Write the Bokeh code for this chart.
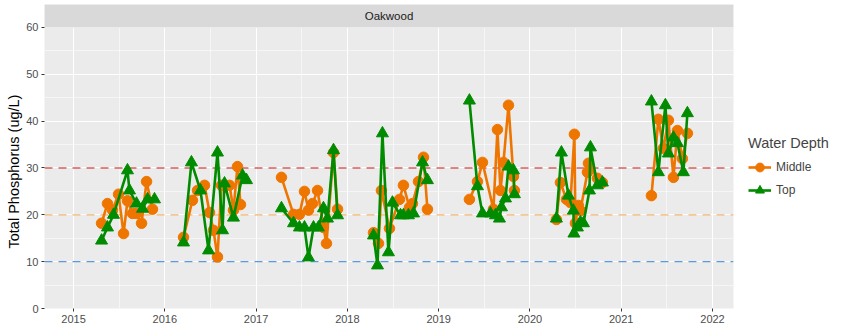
import numpy as np
from bokeh.plotting import figure
from bokeh.models import (Range1d, FixedTicker, BoxAnnotation, Label, Span,
                          Legend, LegendItem, Title)
from bokeh.embed import file_html
from bokeh.resources import INLINE

site = "Oakwood"
legend_title = "Water Depth"
y_label = "Total Phosphorus (ug/L)"
depth_labels = ["Middle", "Top"]

# sample dates as decimal years, total phosphorus (ug/L)
middle_time = [2015.307, 2015.372, 2015.427, 2015.493, 2015.548, 2015.591, 2015.646, 2015.690, 2015.745, 2015.800, 2015.865,
               2016.205, 2016.303, 2016.358, 2016.435, 2016.490, 2016.533, 2016.577, 2016.621, 2016.709, 2016.752, 2016.796, 2016.829,
               2017.278, 2017.410, 2017.475, 2017.530, 2017.574, 2017.618, 2017.673, 2017.738, 2017.771, 2017.848, 2017.892,
               2018.286, 2018.341, 2018.373, 2018.461, 2018.571, 2018.614, 2018.680, 2018.713, 2018.779, 2018.834, 2018.877,
               2019.337, 2019.425, 2019.480, 2019.600, 2019.644, 2019.677, 2019.710, 2019.765, 2019.819, 2019.830,
               2020.290, 2020.334, 2020.400, 2020.444, 2020.487, 2020.498, 2020.531, 2020.553, 2020.630, 2020.641, 2020.739, 2020.794,
               2021.331, 2021.407, 2021.462, 2021.517, 2021.572, 2021.616, 2021.670, 2021.725]
middle_tp = [18.2, 22.4, 21.0, 24.4, 16.0, 23.0, 20.3, 20.3, 18.2, 27.1, 21.2,
             15.2, 23.1, 25.2, 26.3, 20.5, 16.7, 11.0, 26.3, 26.3, 21.0, 30.3, 22.2,
             28.0, 20.1, 20.1, 25.0, 21.0, 22.4, 25.2, 17.3, 13.9, 33.3, 21.2,
             16.2, 13.9, 25.2, 17.1, 23.3, 26.3, 21.6, 22.4, 27.1, 32.3, 21.2,
             23.3, 27.1, 31.2, 21.2, 38.2, 25.2, 31.2, 43.4, 28.2, 25.2,
             19.0, 26.9, 23.3, 22.6, 37.2, 18.2, 22.0, 20.9, 29.1, 31.0, 27.8, 26.9,
             24.1, 40.4, 34.2, 40.2, 28.0, 38.0, 32.0, 37.4]

top_time = [2015.307, 2015.372, 2015.438, 2015.591, 2015.613, 2015.690, 2015.756, 2015.811, 2015.887,
            2016.205, 2016.292, 2016.391, 2016.479, 2016.577, 2016.632, 2016.654, 2016.752, 2016.851, 2016.895,
            2017.278, 2017.410, 2017.475, 2017.530, 2017.574, 2017.629, 2017.683, 2017.738, 2017.782, 2017.848, 2017.892,
            2018.286, 2018.330, 2018.384, 2018.450, 2018.494, 2018.582, 2018.614, 2018.669, 2018.724, 2018.823, 2018.877,
            2019.337, 2019.425, 2019.480, 2019.567, 2019.622, 2019.666, 2019.688, 2019.732, 2019.765, 2019.819, 2019.830,
            2020.290, 2020.345, 2020.422, 2020.476, 2020.482, 2020.520, 2020.553, 2020.586, 2020.652, 2020.663, 2020.739, 2020.794,
            2021.331, 2021.407, 2021.484, 2021.517, 2021.572, 2021.616, 2021.681, 2021.725]
top_tp = [14.5, 17.3, 20.0, 29.5, 25.2, 22.4, 21.3, 23.3, 23.3,
          14.1, 31.2, 25.2, 12.4, 33.3, 16.7, 26.7, 19.4, 28.4, 27.4,
          21.4, 18.2, 17.3, 17.3, 10.9, 17.3, 17.3, 21.4, 19.2, 33.8, 19.9,
          15.6, 9.2, 37.4, 12.0, 22.6, 19.9, 19.9, 19.9, 20.3, 31.2, 27.4,
          44.4, 26.1, 20.3, 20.3, 19.9, 19.2, 21.6, 23.5, 30.3, 29.5, 24.4,
          19.2, 33.3, 24.1, 20.9, 16.0, 17.3, 18.4, 18.2, 25.2, 34.4, 26.3, 26.9,
          44.2, 29.1, 43.4, 33.1, 36.5, 35.3, 29.1, 41.7]

year_ticks = [2015, 2016, 2017, 2018, 2019, 2020, 2021, 2022]
tp_ticks = [0, 10, 20, 30, 40, 50, 60]
thresholds = [10, 20, 30]
threshold_colors = ["#5A9BE0", "#F6B46E", "#D65F5C"]

ORANGE = "#EE7600"
GREEN = "#008B00"
FONT = "Liberation Sans"

x_lo, x_hi = 2014.682, 2022.230
y_top = 64.91

p = figure(frame_width=689, frame_height=304, output_backend="svg", toolbar_location=None,
           x_range=Range1d(x_lo, x_hi), y_range=Range1d(0, y_top),
           min_border_left=44, min_border_right=0, min_border_top=4, min_border_bottom=22,
           background_fill_color="#EBEBEB", border_fill_color="white", outline_line_color=None)

x_minor = [t + 0.5 for t in year_ticks[:-1]]
y_minor = [t + 5 for t in tp_ticks[:-1]]
p.xaxis.ticker = FixedTicker(ticks=year_ticks, minor_ticks=x_minor)
p.yaxis.ticker = FixedTicker(ticks=tp_ticks, minor_ticks=y_minor)

for ax in (p.xaxis[0], p.yaxis[0]):
    ax.axis_line_color = None
    ax.major_tick_line_color = "#333333"
    ax.major_tick_out = 3
    ax.major_tick_in = 0
    ax.minor_tick_line_color = None
    ax.major_label_text_color = "#4D4D4D"
    ax.major_label_text_font = FONT
    ax.major_label_text_font_size = "11px"
    ax.major_label_standoff = 2

# y axis title, centred on the panel (below the strip)
p.add_layout(Title(text=y_label, align="left", offset=60, vertical_align="middle",
                   text_font=FONT, text_font_size="14.5px", text_font_style="normal",
                   text_color="black", standoff=2), "left")

for g in (p.xgrid[0], p.ygrid[0]):
    g.grid_line_color = "white"
    g.grid_line_width = 1.1
    g.minor_grid_line_color = "white"
    g.minor_grid_line_width = 0.55

# facet strip
p.add_layout(BoxAnnotation(bottom=60, fill_color="#D9D9D9", fill_alpha=1.0, line_color=None))
p.add_layout(Label(x=(x_lo + x_hi) / 2, y=(60 + y_top) / 2, text=site, text_align="center",
                   text_baseline="middle", text_font=FONT, text_font_size="11.5px", text_color="#1A1A1A"))

for val, col in zip(thresholds, threshold_colors):
    p.add_layout(Span(location=val, dimension="width", line_color=col, line_width=1.3,
                      line_dash="8 6", level="underlay"))


def by_year(t, v):
    t = np.asarray(t)
    v = np.asarray(v)
    yrs = np.floor(t)
    xs, ys = [], []
    for y in np.unique(yrs):
        m = yrs == y
        xs.append(list(t[m]))
        ys.append(list(v[m]))
    return xs, ys


mxs, mys = by_year(middle_time, middle_tp)
txs, tys = by_year(top_time, top_tp)

ml = p.multi_line(xs=mxs, ys=mys, line_color=ORANGE, line_width=2.6)
ms = p.scatter(x=middle_time, y=middle_tp, marker="circle", size=10.5, fill_color=ORANGE, line_color=ORANGE)
tl = p.multi_line(xs=txs, ys=tys, line_color=GREEN, line_width=2.6)
ts = p.scatter(x=top_time, y=top_tp, marker="triangle", size=12, fill_color=GREEN, line_color=GREEN)

legend = Legend(items=[LegendItem(label=depth_labels[0], renderers=[ml, ms]),
                       LegendItem(label=depth_labels[1], renderers=[tl, ts])],
                title=legend_title, location=(15, 107), orientation="vertical")
legend.title_text_font = FONT
legend.title_text_font_size = "14.5px"
legend.title_text_font_style = "normal"
legend.label_text_font = FONT
legend.label_text_font_size = "12px"
legend.glyph_width = 23
legend.glyph_height = 22
legend.spacing = 1
legend.padding = 4
legend.margin = 12
legend.border_line_color = None
legend.background_fill_alpha = 0
p.add_layout(legend, "right")

open("out.html", "w").write(file_html(p, INLINE))
